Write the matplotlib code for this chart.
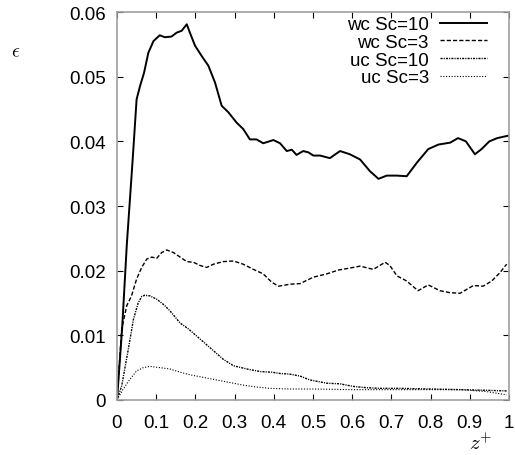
import matplotlib
matplotlib.use("Agg")
import matplotlib.pyplot as plt

plt.rcParams['font.family'] = ['Liberation Sans', 'DejaVu Sans']
plt.rcParams['mathtext.fontset'] = 'cm'

# wc Sc=10 (solid)
z_wc10 = [0.0, 0.013, 0.025, 0.040, 0.050, 0.059, 0.069, 0.080, 0.093, 0.109, 0.122, 0.139,
          0.152, 0.165, 0.178, 0.186, 0.199, 0.216, 0.233, 0.250, 0.267, 0.284, 0.305, 0.322,
          0.339, 0.356, 0.373, 0.399, 0.416, 0.433, 0.446, 0.458, 0.475, 0.488, 0.501, 0.518,
          0.543, 0.569, 0.594, 0.620, 0.645, 0.667, 0.688, 0.714, 0.739, 0.765, 0.794, 0.82,
          0.85, 0.87, 0.89, 0.913, 0.930, 0.95, 0.97, 1.0]
e_wc10 = [0.0, 0.011, 0.024, 0.0372, 0.0465, 0.0486, 0.0506, 0.0537, 0.0555, 0.0564, 0.0561, 0.0562,
          0.0568, 0.0571, 0.0581, 0.0568, 0.0548, 0.0532, 0.0517, 0.0491, 0.0455, 0.0445, 0.0429, 0.0419,
          0.0403, 0.0403, 0.0397, 0.0402, 0.0397, 0.0385, 0.0387, 0.0379, 0.0385, 0.0383, 0.0378, 0.0378,
          0.0374, 0.0385, 0.0380, 0.0372, 0.0354, 0.0342, 0.0347, 0.0347, 0.0346, 0.0367, 0.0388, 0.0395,
          0.0398, 0.0405, 0.0400, 0.0380, 0.0388, 0.0400, 0.0405, 0.0409]

# wc Sc=3 (dashed)
z_wc3 = [0.0, 0.012, 0.025, 0.037, 0.050, 0.063, 0.076, 0.089, 0.101, 0.114, 0.127, 0.144,
         0.161, 0.178, 0.195, 0.212, 0.229, 0.246, 0.271, 0.297, 0.322, 0.348, 0.373, 0.395,
         0.412, 0.441, 0.467, 0.501, 0.535, 0.565, 0.594, 0.620, 0.654, 0.684, 0.696, 0.714,
         0.739, 0.768, 0.794, 0.824, 0.849, 0.875, 0.909, 0.934, 0.956, 0.977, 0.994]
e_wc3 = [0.0, 0.011, 0.0146, 0.0161, 0.0187, 0.0205, 0.0218, 0.0221, 0.0219, 0.0228, 0.0232, 0.0228,
         0.0221, 0.0214, 0.0213, 0.0208, 0.0205, 0.0210, 0.0214, 0.0215, 0.0210, 0.0202, 0.0195, 0.0182,
         0.0176, 0.0179, 0.0180, 0.0190, 0.0195, 0.0201, 0.0204, 0.0207, 0.0202, 0.0213, 0.0208, 0.0192,
         0.0184, 0.0169, 0.0178, 0.0169, 0.0166, 0.0165, 0.0177, 0.0176, 0.0184, 0.0197, 0.0210]

# uc Sc=10 (dash-dot)
z_uc10 = [0.0, 0.012, 0.029, 0.042, 0.054, 0.063, 0.071, 0.084, 0.101, 0.120, 0.135, 0.161,
          0.182, 0.203, 0.237, 0.271, 0.297, 0.331, 0.365, 0.395, 0.416, 0.441, 0.467, 0.492,
          0.501, 0.535, 0.569, 0.603, 0.637, 0.671, 0.72, 0.80, 0.875, 0.943, 0.994]
e_uc10 = [0.0, 0.0022, 0.0079, 0.0125, 0.0150, 0.0160, 0.0162, 0.0161, 0.0156, 0.0147, 0.0138, 0.0119,
          0.0110, 0.0099, 0.0081, 0.0063, 0.0053, 0.0048, 0.0044, 0.0043, 0.0041, 0.0040, 0.0037, 0.0031,
          0.0030, 0.0026, 0.0025, 0.0021, 0.0019, 0.0018, 0.0018, 0.0017, 0.0016, 0.0015, 0.0014]

# uc Sc=3 (dotted)
z_uc3 = [0.0, 0.016, 0.033, 0.050, 0.067, 0.084, 0.110, 0.135, 0.161, 0.186, 0.220, 0.254,
         0.288, 0.322, 0.356, 0.390, 0.441, 0.50, 0.60, 0.70, 0.80, 0.88, 0.943, 0.994]
e_uc3 = [0.0, 0.0017, 0.0032, 0.0045, 0.0050, 0.0052, 0.0050, 0.0048, 0.0043, 0.0039, 0.0035, 0.0031,
         0.0027, 0.0023, 0.0020, 0.0018, 0.0017, 0.0017, 0.0016, 0.0016, 0.0016, 0.0016, 0.0013, 0.0008]

x_ticks = [0, 0.1, 0.2, 0.3, 0.4, 0.5, 0.6, 0.7, 0.8, 0.9, 1]
x_labels = ['0', '0.1', '0.2', '0.3', '0.4', '0.5', '0.6', '0.7', '0.8', '0.9', '1']
y_ticks = [0, 0.01, 0.02, 0.03, 0.04, 0.05, 0.06]
y_labels = ['0', '0.01', '0.02', '0.03', '0.04', '0.05', '0.06']

fig = plt.figure(figsize=(5.15, 4.56), dpi=100)
ax = fig.add_axes([117 / 515, 1 - 401 / 456, 392 / 515, 388 / 456])

ax.plot(z_wc10, e_wc10, color='black', lw=1.4, ls='-', label='wc Sc=10')
ax.plot(z_wc3, e_wc3, color='black', lw=1.0, ls=(0, (3, 1.5)), label='wc Sc=3')
ax.plot(z_uc10, e_uc10, color='black', lw=1.0, ls=(0, (1.5, 0.8, 0.8, 0.8)), label='uc Sc=10')
ax.plot(z_uc3, e_uc3, color='black', lw=0.8, ls=(0, (1, 1.5)), label='uc Sc=3')

ax.set_xlim(0, 1)
ax.set_ylim(0, 0.06)
ax.set_xticks(x_ticks)
ax.set_xticklabels(x_labels)
ax.set_yticks(y_ticks)
ax.set_yticklabels(y_labels)
ax.tick_params(direction='in', length=4, width=0.8, top=True, right=True, labelsize=13.5)
ax.tick_params(axis='x', pad=10)
ax.tick_params(axis='y', pad=8)
for s in ax.spines.values():
    s.set_color('#a0a0a0')
    s.set_linewidth(1.2)

# axis labels sit in the corners, like gnuplot puts them
fig.text(16 / 515, 1 - 53 / 456, r'$\epsilon$', fontsize=14, ha='center', va='center')
fig.text(481 / 515, 1 - 443 / 456, r'$z^{+}$', fontsize=15, ha='center', va='center')

ax.legend(loc='upper right', bbox_to_anchor=((487 - 117) / 392, (401 - 17) / 388),
          frameon=False, markerfirst=False, fontsize=13.5, borderpad=0, borderaxespad=0,
          handlelength=2.5, handletextpad=0.6, labelspacing=0.03)

fig.savefig('out.png', dpi=100)
